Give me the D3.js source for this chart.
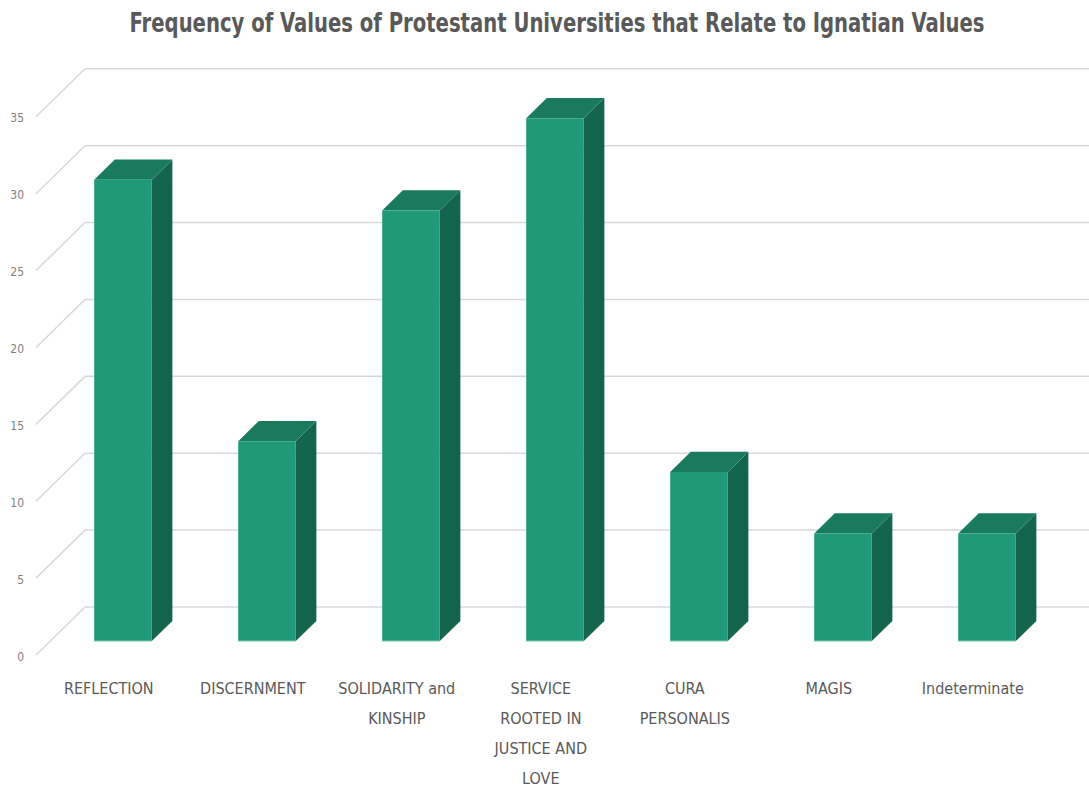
<!DOCTYPE html>
<html>
<head>
<meta charset="utf-8">
<script src="https://cdn.jsdelivr.net/npm/d3@7"></script>
<style>
  html, body { margin: 0; padding: 0; background: #ffffff; }
  svg { display: block; }
  text { font-family: "Liberation Sans Narrow", "Arial Narrow", "DejaVu Sans Condensed", sans-serif; }
</style>
</head>
<body>
<svg id="chart" width="1089" height="793"></svg>
<script>
// Category names shown along the floor
const categories = [
  "REFLECTION",
  "DISCERNMENT",
  "SOLIDARITY and KINSHIP",
  "SERVICE ROOTED IN JUSTICE AND LOVE",
  "CURA PERSONALIS",
  "MAGIS",
  "Indeterminate"
];
// Frequency per category
const frequencies = [30, 13, 28, 34, 11, 7, 7];
// Value-axis ticks
const yTicks = [0, 5, 10, 15, 20, 25, 30, 35];
const chartTitle = "Frequency of Values of Protestant Universities that Relate to Ignatian Values";

const W = 1089, H = 793;
const svg = d3.select("#chart");

// 3D layout: front floor edge plane, and the depth vector to the back wall
const depth = { dx: 49, dy: -48 };
const barZ0 = 0.29, barZ1 = 0.71;   // bar front/back as fractions of floor depth

const x = d3.scaleBand()
  .domain(categories)
  .range([36.8, 1044.8])
  .paddingInner(0.6)
  .paddingOuter(0.3);

// Value scale in the front plane of the floor
const y = d3.scaleLinear().domain([0, 35]).range([655, 116.8]);

// project (screen point on front plane, depth fraction) → screen point
const proj = (px, py, z) => [px + depth.dx * z, py + depth.dy * z];

// Back wall gridlines plus the diagonal side-wall lines
const grid = svg.append("g").attr("stroke", "#d9d9d9").attr("stroke-width", 1.5).attr("fill", "none");
yTicks.forEach(v => {
  const f = proj(36, y(v), 0);
  const b = proj(36, y(v), 1);
  grid.append("line").attr("x1", f[0]).attr("y1", f[1]).attr("x2", b[0]).attr("y2", b[1]);
  grid.append("line").attr("x1", b[0]).attr("y1", b[1]).attr("x2", W).attr("y2", b[1]);
});

// Value-axis labels
svg.append("g").selectAll("text")
  .data(yTicks)
  .join("text")
  .attr("x", 24)
  .attr("y", d => y(d) + 2)
  .attr("text-anchor", "end")
  .attr("dominant-baseline", "middle")
  .attr("fill", "#7f7f7f")
  .attr("font-size", 12)
  .text(d => d);

// Columns: side, top, front faces
const colors = { front: "#1f9a79", top: "#197a5e", side: "#15654e" };
const bars = svg.append("g");
categories.forEach((c, i) => {
  const v = frequencies[i];
  const x0 = x(c), x1 = x(c) + x.bandwidth();
  const ft = y(v), fb = y(0);
  const A = proj(x0, ft, barZ0), B = proj(x1, ft, barZ0), C = proj(x1, fb, barZ0), D = proj(x0, fb, barZ0);
  const A2 = proj(x0, ft, barZ1), B2 = proj(x1, ft, barZ1), C2 = proj(x1, fb, barZ1);
  const line = pts => "M" + pts.map(p => p.join(",")).join("L") + "Z";
  bars.append("path").attr("d", line([B, B2, C2, C])).attr("fill", colors.side);
  bars.append("path").attr("d", line([A, A2, B2, B])).attr("fill", colors.top);
  bars.append("path").attr("d", line([A, B, C, D])).attr("fill", colors.front);
  bars.append("line").attr("x1", D[0]).attr("y1", D[1]).attr("x2", C[0]).attr("y2", C[1])
    .attr("stroke", "#8fd3bf").attr("stroke-width", 1);
});

// Category labels, wrapped to a fixed width
const labelWidth = 120;
const labels = svg.append("g");
categories.forEach(c => {
  const cx = x(c) + x.bandwidth() / 2;
  const t = labels.append("text")
    .attr("x", cx)
    .attr("y", 694)
    .attr("text-anchor", "middle")
    .attr("fill", "#595959")
    .attr("font-size", 16);
  const words = c.split(" ");
  let lineWords = [];
  let tspan = t.append("tspan").attr("x", cx).attr("dy", 0);
  words.forEach(w => {
    lineWords.push(w);
    tspan.text(lineWords.join(" "));
    if (tspan.node().getComputedTextLength() > labelWidth && lineWords.length > 1) {
      lineWords.pop();
      tspan.text(lineWords.join(" "));
      lineWords = [w];
      tspan = t.append("tspan").attr("x", cx).attr("dy", 30).text(w);
    }
  });
});

// Title, squeezed horizontally to a condensed look
const titleWidth = 855;
const title = svg.append("g").attr("transform", "translate(557,32)");
const titleText = title.append("text")
  .attr("text-anchor", "middle")
  .attr("fill", "#595959")
  .attr("font-size", 26)
  .attr("font-weight", "bold")
  .text(chartTitle);
const natural = titleText.node().getComputedTextLength();
titleText.attr("transform", `scale(${Math.min(1, titleWidth / natural)},1)`);
</script>
</body>
</html>
